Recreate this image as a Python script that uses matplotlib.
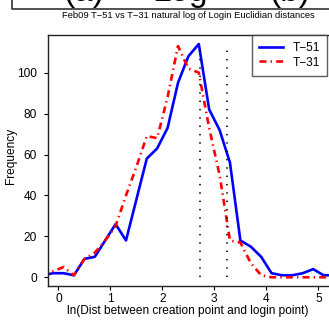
import numpy as np
import matplotlib
matplotlib.use("Agg")
import matplotlib.pyplot as plt
from matplotlib.lines import Line2D

plt.rcParams['font.family'] = ['Liberation Sans', 'DejaVu Sans']
plt.rcParams['lines.scale_dashes'] = False

# bin centres of ln(distance) histogram
bin_mid = [-0.3, -0.1, 0.1, 0.3, 0.5, 0.7, 0.9, 1.1, 1.3, 1.5, 1.7, 1.9, 2.1, 2.3,
           2.5, 2.7, 2.9, 3.1, 3.3, 3.5, 3.7, 3.9, 4.1, 4.3, 4.5, 4.7, 4.9, 5.1, 5.3]
freq_t51 = [1, 2, 2, 1, 9, 10, 18, 26, 18, 38, 58, 63, 73, 95,
            108, 114, 82, 72, 56, 18, 15, 10, 2, 1, 1, 2, 4, 1, 1]
freq_t31 = [0, 3, 5, 1, 9, 12, 18, 25, 40, 54, 69, 68, 88, 113,
            102, 100, 73, 50, 18, 17, 7, 1, 0, 0, 0, 0, 0, 0, 0]
# dotted reference lines (medians)
ref_x = [2.72, 3.24]
ref_top = 113

xticks = [0, 1, 2, 3, 4, 5]
yticks = [0, 20, 40, 60, 80, 100]

W, H = 329, 321
fig = plt.figure(figsize=(W / 100, H / 100), dpi=100)
ax = fig.add_axes([48 / W, (H - 286) / H, 287 / W, 251 / H])

ax.plot(bin_mid, freq_t51, color='#0000ff', lw=1.9, label='T\u221251',
        solid_joinstyle='round')
ax.plot(bin_mid, freq_t31, color='#ff0000', lw=1.9, label='T\u221231',
        linestyle=(0, (5, 3, 1, 3)))
ax.vlines(ref_x, 0, ref_top, colors='black', lw=1.2, linestyles=[(0, (1, 5))])

ax.set_xlim(-0.2, 5.32)
ax.set_ylim(-4.25, 118.4)
ax.set_xticks(xticks)
ax.set_yticks(yticks)
ax.tick_params(labelsize=8.6, length=3, width=0.8, color='black')
ax.tick_params(axis='y', pad=5)
ax.tick_params(axis='x', pad=2)
for s in ax.spines.values():
    s.set_linewidth(1.0)
    s.set_color('#222222')
ax.spines['right'].set_visible(False)

ax.set_xlabel('ln(Dist between creation point and login point)', fontsize=8.6)
ax.xaxis.set_label_coords(0.488, -0.075)
ax.set_ylabel('Frequency', fontsize=8.6)
ax.yaxis.set_label_coords(-0.108, 0.52)

leg = ax.legend(loc='upper left', bbox_to_anchor=(0.71, 1.0), fontsize=8.6,
                frameon=True, fancybox=False, borderaxespad=0, borderpad=0.6,
                labelspacing=0.2, handlelength=2.0, handletextpad=0.8)
leg.get_frame().set_edgecolor('#333333')
leg.get_frame().set_linewidth(1.0)

fig.text(188 / W, 1 - 15 / H,
         'Feb09 T\u221251 vs T\u221231 natural log of Login Euclidian distances',
         ha='center', va='center', fontsize=6.75)

# remains of the panel above (cut off at the top of the picture)
fig.add_artist(Line2D([12 / W, 12 / W, 1], [1, 1 - 9 / H, 1 - 9 / H],
                      transform=fig.transFigure, color='#333333', lw=1.2))
for xp, s in [(84, '(a)'), (180, 'Log'), (290, '(b)')]:
    fig.text(xp / W, 1 - 1 / H, s, ha='center', va='baseline', fontsize=24)

fig.savefig('out.png', dpi=100)
